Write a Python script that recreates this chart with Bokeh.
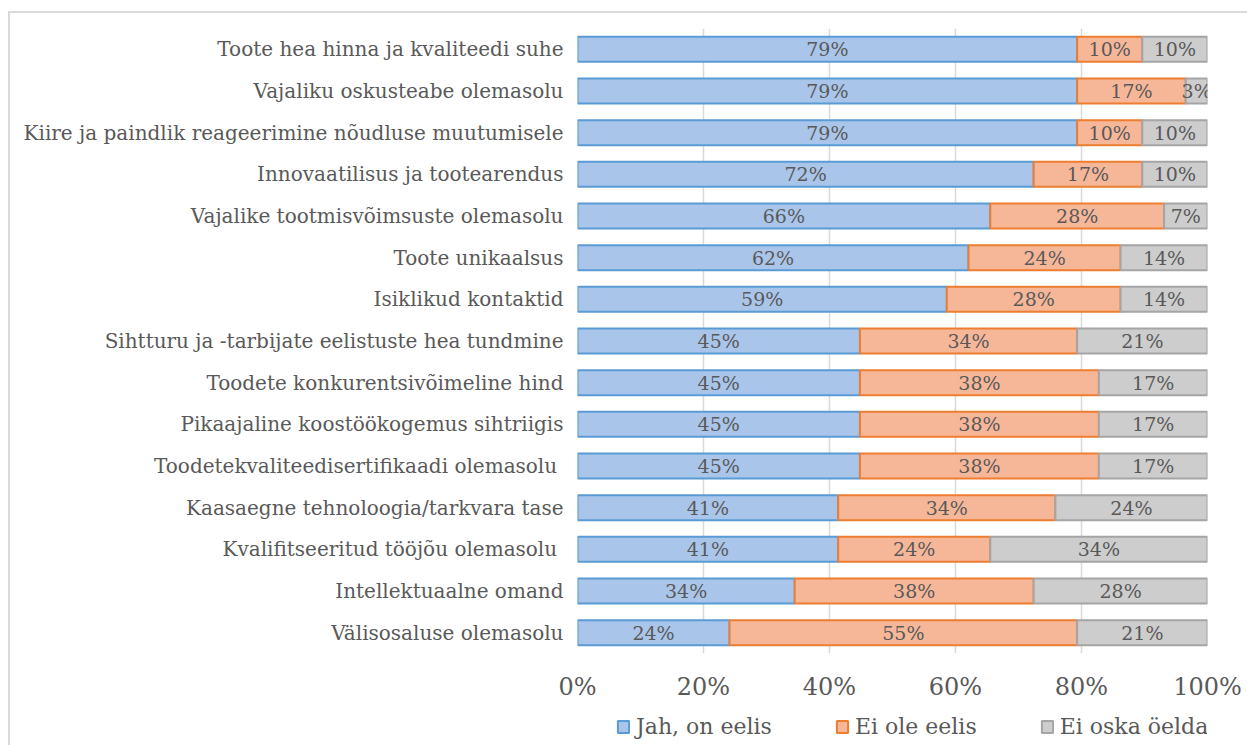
from bokeh.plotting import figure
from bokeh.layouts import column
from bokeh.models import (ColumnDataSource, FactorRange, Range1d, FixedTicker,
                          PrintfTickFormatter, Legend, LegendItem)
from bokeh.core.properties import value
from bokeh.embed import file_html
from bokeh.resources import INLINE

categories = [
    "Toote hea hinna ja kvaliteedi suhe",
    "Vajaliku oskusteabe olemasolu",
    "Kiire ja paindlik reageerimine nõudluse muutumisele",
    "Innovaatilisus ja tootearendus",
    "Vajalike tootmisvõimsuste olemasolu",
    "Toote unikaalsus",
    "Isiklikud kontaktid",
    "Sihtturu ja -tarbijate eelistuste hea tundmine",
    "Toodete konkurentsivõimeline hind",
    "Pikaajaline koostöökogemus sihtriigis",
    "Toodetekvaliteedisertifikaadi olemasolu ",
    "Kaasaegne tehnoloogia/tarkvara tase",
    "Kvalifitseeritud tööjõu olemasolu ",
    "Intellektuaalne omand",
    "Välisosaluse olemasolu",
]
yes_pct = [79.31, 79.31, 79.31, 72.41, 65.52, 62.07, 58.62, 44.83, 44.83, 44.83, 44.83, 41.38, 41.38, 34.48, 24.14]
no_pct = [10.34, 17.24, 10.34, 17.24, 27.59, 24.14, 27.59, 34.48, 37.93, 37.93, 37.93, 34.48, 24.14, 37.93, 55.17]
dk_pct = [10.34, 3.45, 10.34, 10.34, 6.90, 13.79, 13.79, 20.69, 17.24, 17.24, 17.24, 24.14, 34.48, 27.59, 20.69]
series_names = ["Jah, on eelis", "Ei ole eelis", "Ei oska öelda"]
x_ticks = [0, 20, 40, 60, 80, 100]

FONT = "DejaVu Serif"
TXT = "#595959"
fills = ["#a9c5ea", "#f6b799", "#cdcdcd"]
lines = ["#5b9bd5", "#ed7d31", "#a5a5a5"]

W = 1237
p = figure(width=W, height=692,
           y_range=FactorRange(*reversed(categories)), x_range=Range1d(0, 100),
           output_backend="svg", toolbar_location=None,
           min_border_left=567, min_border_right=40, min_border_top=15, min_border_bottom=52)
p.outline_line_color = None
p.background_fill_color = "white"
p.border_fill_color = "white"

src = ColumnDataSource(dict(cat=categories, yes=yes_pct, no=no_pct, dk=dk_pct))
p.hbar_stack(["yes", "no", "dk"], y="cat", height=0.6, source=src,
             fill_color=fills, line_color=lines, line_width=2)

lab_x, lab_y, lab_t = [], [], []
for c, a, b, d in zip(categories, yes_pct, no_pct, dk_pct):
    for start, v in [(0, a), (a, b), (a + b, d)]:
        lab_x.append(start + v / 2)
        lab_y.append(c)
        lab_t.append(f"{round(v)}%")
p.text(x=lab_x, y=lab_y, text=lab_t, text_font=value(FONT), text_font_size="19px",
       text_color=TXT, text_align="center", text_baseline="middle")

p.xaxis.ticker = FixedTicker(ticks=x_ticks)
p.xaxis.formatter = PrintfTickFormatter(format="%d%%")
p.xaxis.axis_line_color = None
p.xaxis.major_tick_line_color = None
p.xaxis.minor_tick_line_color = None
p.xaxis.major_label_text_font = FONT
p.xaxis.major_label_text_font_size = "24px"
p.xaxis.major_label_text_color = TXT
p.xaxis.major_label_standoff = 13

p.yaxis.axis_line_color = None
p.yaxis.major_tick_line_color = None
p.yaxis.minor_tick_line_color = None
p.yaxis.major_label_text_font = FONT
p.yaxis.major_label_text_font_size = "20px"
p.yaxis.major_label_text_color = TXT
p.yaxis.major_label_standoff = 8

p.xgrid.ticker = FixedTicker(ticks=x_ticks)
p.xgrid.grid_line_color = "#d9d9d9"
p.xgrid.grid_line_width = 1.5
p.ygrid.grid_line_color = None

# legend strip (separate small figure so the legend is not clipped);
# its renderers only carry the series styles for the legend swatches and lie outside the view
pl = figure(width=W, height=40, x_range=Range1d(0, 1), y_range=Range1d(0, 1),
            output_backend="svg", toolbar_location=None,
            min_border_left=0, min_border_right=0, min_border_top=0, min_border_bottom=0)
pl.axis.visible = False
pl.grid.grid_line_color = None
pl.outline_line_color = None
pl.border_fill_color = "white"
leg_rs = [pl.hbar(y=[-5], left=[0], right=[0], height=0.5, fill_color=f, line_color=l, line_width=2)
          for f, l in zip(fills, lines)]
legend = Legend(items=[LegendItem(label=n, renderers=[r]) for n, r in zip(series_names, leg_rs)],
                orientation="horizontal", location=(39, 6),
                glyph_width=14, glyph_height=15, label_standoff=6, spacing=63,
                padding=0, margin=0, border_line_color=None, background_fill_alpha=0,
                label_text_font=FONT, label_text_font_size="22px", label_text_color=TXT)
pl.add_layout(legend)

layout = column(p, pl, spacing=0)
layout.styles = {"margin-left": "8px", "margin-top": "11px",
                 "border-top": "2px solid #d9d9d9", "border-left": "2px solid #d9d9d9"}

open("out.html", "w").write(file_html(layout, INLINE))
